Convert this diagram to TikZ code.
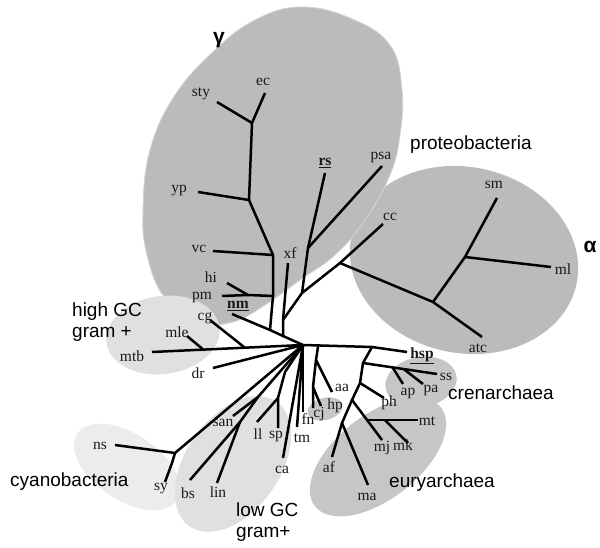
\documentclass[tikz,border=0pt]{standalone}
\usepackage{fontspec}
\setmainfont{Liberation Serif}
\newfontfamily\sansf{Liberation Sans}
\usetikzlibrary{calc}
\definecolor{gdark}{HTML}{BBBBBB}
\definecolor{gmid}{HTML}{C6C6C6}
\definecolor{glight}{HTML}{E0E0E0}
\definecolor{gpale}{HTML}{ECECEC}
\definecolor{gedge}{HTML}{D6D6D6}
\begin{document}
\begin{tikzpicture}[x=1pt,y=-1pt,
  br/.style={line width=2.5pt, line join=round},
  leaf/.style={font=\fontsize{15.5}{17}\selectfont, inner sep=0pt, text=black!90},
  grp/.style={font=\sansf\fontsize{19}{20.5}\selectfont, inner sep=0pt, align=left},
  greek/.style={font=\sansf\bfseries\fontsize{21}{22}\selectfont, inner sep=0pt}]
\useasboundingbox (0,0) rectangle (600,548);
\fill[white] (0,0) rectangle (600,548);

% ---- group blobs ----
\fill[gdark, rotate around={-12:(464,260)}] (464,260) ellipse [x radius=115, y radius=93];
\filldraw[fill=gdark, draw=gedge, line width=0.8pt] plot[smooth cycle, tension=0.7] coordinates {(300,7) (350,18) (390,45) (402,90) (400,135) (390,175) (365,220) (335,255) (300,280) (265,305) (233,322) (200,322) (165,298) (147,255) (143,210) (150,150) (175,95) (215,50) (255,20)};
\fill[glight, rotate around={8:(163,335)}] (163,335) ellipse [x radius=57, y radius=39];
\fill[gpale, rotate around={-34:(127,467)}] (127,467) ellipse [x radius=60, y radius=33];
\fill[glight, rotate around={55:(233,464)}] (233,464) ellipse [x radius=76, y radius=47];
\fill[gmid, rotate around={10:(421,382)}] (421,382) ellipse [x radius=36, y radius=25];
\fill[gmid, rotate around={38:(378,457)}] (378,457) ellipse [x radius=80, y radius=42];
\fill[gmid, rotate around={15:(325,409)}] (325,409) ellipse [x radius=18, y radius=11];

% ---- coordinates ----
\coordinate (hub) at (303,345);
\coordinate (E) at (270,330);
\coordinate (F) at (283,336);
\coordinate (nmE) at (232,314);
\coordinate (T1) at (252,123);
\coordinate (T2) at (249,200);
\coordinate (T3) at (273,255);
\coordinate (T4) at (273,296);
\coordinate (styE) at (217,102);
\coordinate (ecE) at (265,93);
\coordinate (ypE) at (198,192);
\coordinate (vcE) at (213,251);
\coordinate (hiJ) at (248,295);
\coordinate (hiE) at (227,283);
\coordinate (pmE) at (222,296);
\coordinate (A) at (283,320);
\coordinate (xfE) at (288,263);
\coordinate (B) at (302,293);
\coordinate (C) at (308,248);
\coordinate (rsE) at (325,173);
\coordinate (psaE) at (382,166);
\coordinate (D) at (340,263);
\coordinate (ccE) at (383,224);
\coordinate (P) at (433,302);
\coordinate (Q) at (465,257);
\coordinate (atcE) at (482,337);
\coordinate (smE) at (497,198);
\coordinate (mlE) at (551,267);

\coordinate (mtbE) at (152,352);
\coordinate (mleJ) at ($(mtbE)!0.34!(hub)$);
\coordinate (cgJ) at ($(mtbE)!0.615!(hub)$);
\coordinate (mleE) at (187,336);
\coordinate (cgE) at (210,320);

\coordinate (J) at (372,347);
\coordinate (R1) at ($(hub)!0.22!(J)$);
\coordinate (hspE) at (407,352);
\coordinate (aJ) at (316,360);
\coordinate (aaE) at (332,392);
\coordinate (cJ) at (313,387);
\coordinate (cjE) at (313,408);
\coordinate (hpE) at (321,406);

\coordinate (K) at (363,363);
\coordinate (L) at (360,383);
\coordinate (G) at (352,400);
\coordinate (M) at (342,423);
\coordinate (afE) at (332,457);
\coordinate (ssE) at (437,374);
\coordinate (apJ) at ($(K)!0.4!(ssE)$);
\coordinate (paJ) at ($(K)!0.55!(ssE)$);
\coordinate (apE) at (403,384);
\coordinate (paE) at (423,384);
\coordinate (phE) at (384,398);
\coordinate (mjE) at (382,440);
\coordinate (H) at ($(G)!0.5!(mjE)$);
\coordinate (mtE) at (418,420);
\coordinate (I) at ($(H)!0.35!(mtE)$);
\coordinate (mkE) at (408,443);
\coordinate (maE) at (368,485);

\coordinate (drE) at (213,368);
\coordinate (cy) at (175,453);
\coordinate (nsE) at (115,445);
\coordinate (syB) at (172,463);
\coordinate (syE) at (165,482);
\coordinate (lg1) at (258,397);
\coordinate (lg2) at (240,422);
\coordinate (bsE) at (190,480);
\coordinate (sanE) at (233,416);
\coordinate (linE) at (217,483);
\coordinate (spA) at (285,372);
\coordinate (spJ) at (278,398);
\coordinate (spE) at (278,428);
\coordinate (llE) at (257,422);
\coordinate (caE) at (283,458);
\coordinate (tmE) at (297,427);
\coordinate (fnE) at (303,412);

% ---- branches ----
\draw[br] (styE) -- (T1) -- (ecE);
\draw[br] (T1) -- (T2) -- (T3) -- (T4) -- (E);
\draw[br] (ypE) -- (T2);
\draw[br] (vcE) -- (T3);
\draw[br] (pmE) -- (hiJ) -- (T4);
\draw[br] (hiE) -- (hiJ);
\draw[br] (nmE) -- (E) -- (F) -- (hub);
\draw[br] (xfE) -- (A) -- (F);
\draw[br] (A) -- (B) -- (D) -- (P) -- (atcE);
\draw[br] (B) -- (C) -- (rsE);
\draw[br] (C) -- (psaE);
\draw[br] (D) -- (ccE);
\draw[br] (P) -- (Q) -- (smE);
\draw[br] (Q) -- (mlE);

\draw[br] (mtbE) -- (hub);
\draw[br] (mleE) -- (mleJ);
\draw[br] (cgE) -- (cgJ);

\draw[br] (hub) -- (J) -- (hspE);
\draw[br] (R1) -- (aJ) -- (aaE);
\draw[br] (aJ) -- (cJ) -- (cjE);
\draw[br] (cJ) -- (hpE);

\draw[br] (J) -- (K) -- (L) -- (G) -- (M) -- (afE);
\draw[br] (K) -- (ssE);
\draw[br] (apJ) -- (apE);
\draw[br] (paJ) -- (paE);
\draw[br] (L) -- (phE);
\draw[br] (G) -- (mjE);
\draw[br] (H) -- (mtE);
\draw[br] (I) -- (mkE);
\draw[br] (M) -- (maE);

\draw[br] (hub) -- (drE);
\draw[br] (hub) -- (cy) -- (nsE);
\draw[br] (cy) -- (syB) -- (syE);
\draw[br] (hub) -- (lg1) -- (lg2) -- (bsE);
\draw[br] (lg1) -- (sanE);
\draw[br] (lg2) -- (linE);
\draw[br] (hub) -- (spA) -- (spJ) -- (spE);
\draw[br] (spJ) -- (llE);
\draw[br] (hub) -- (caE);
\draw[br] (hub) -- (tmE);
\draw[br] (hub) -- (fnE);

% ---- leaf labels ----
\node[leaf] (sty) at (201,94) {sty};
\node[leaf] (ec) at (263,82) {ec};
\node[leaf] (yp) at (179,191) {yp};
\node[leaf] (rs) at (325,163) {\underline{\textbf{rs}}};
\node[leaf] (psa) at (381,157) {psa};
\node[leaf] (cc) at (390,217) {cc};
\node[leaf] (sm) at (494,185) {sm};
\node[leaf] (ml) at (563,269) {ml};
\node[leaf] (atc) at (478,348) {atc};
\node[leaf] (vc) at (199,249) {vc};
\node[leaf] (xf) at (290,253) {xf};
\node[leaf] (hi) at (211,277) {hi};
\node[leaf] (pm) at (202,297) {pm};
\node[leaf] (nm) at (238,306) {\underline{\textbf{nm}}};
\node[leaf] (cg) at (205,318) {cg};
\node[leaf] (mle) at (177,332) {mle};
\node[leaf] (mtb) at (132,356) {mtb};
\node[leaf] (dr) at (198,373) {dr};
\node[leaf] (ns) at (100,446) {ns};
\node[leaf] (sy) at (161,489) {sy};
\node[leaf] (bs) at (188,493) {bs};
\node[leaf] (lin) at (218,492) {lin};
\node[leaf] (san) at (223,423) {san};
\node[leaf] (ll) at (258,434) {ll};
\node[leaf] (sp) at (276,436) {sp};
\node[leaf] (tm) at (302,438) {tm};
\node[leaf] (fn) at (308,419) {fn};
\node[leaf] (cj) at (319,414) {cj};
\node[leaf] (hp) at (335,406) {hp};
\node[leaf] (aa) at (342,388) {aa};
\node[leaf] (ca) at (282,470) {ca};
\node[leaf] (af) at (329,467) {af};
\node[leaf] (ma) at (367,497) {ma};
\node[leaf] (mj) at (382,448) {mj};
\node[leaf] (mk) at (403,445) {mk};
\node[leaf] (mt) at (427,421) {mt};
\node[leaf] (ph) at (389,403) {ph};
\node[leaf] (ap) at (408,393) {ap};
\node[leaf] (pa) at (431,390) {pa};
\node[leaf] (ss) at (446,377) {ss};
\node[leaf] (hsp) at (422,356) {\underline{\textbf{hsp}}};

% ---- group labels ----
\node[greek] (gam) at (219,40) {γ};
\node[greek] (alp) at (590,247) {α};
\node[grp, anchor=west] (prot) at (410,145) {proteobacteria};
\node[grp, anchor=west] (hgc) at (72,322) {high GC\\gram +};
\node[grp, anchor=west] (cyan) at (10,482) {cyanobacteria};
\node[grp, anchor=west] (lgc) at (236,522) {low GC\\gram+};
\node[grp, anchor=west] (cren) at (448,393) {crenarchaea};
\node[grp, anchor=west] (eury) at (389,483) {euryarchaea};
\end{tikzpicture}
\end{document}
